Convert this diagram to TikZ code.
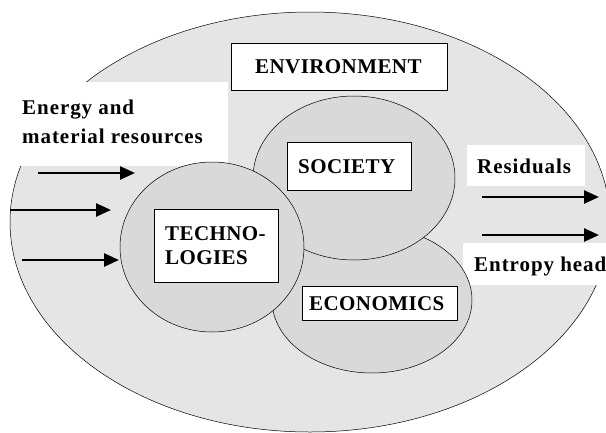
\documentclass[tikz,border=0pt]{standalone}
\usepackage{fontspec}
\setmainfont{Liberation Serif}[BoldFont={Liberation Serif Bold}]
\newfontfamily\capsfnt{Liberation Serif Bold}[LetterSpace=2]
\newfontfamily\wordsfnt{Liberation Serif Bold}[LetterSpace=4.5]
\usetikzlibrary{arrows.meta,shapes.geometric}
\definecolor{outerfill}{gray}{0.90}
\definecolor{innerfill}{gray}{0.85}
\tikzset{
  x=1pt,y=-1pt,
  lab/.style={font=\fontsize{21}{29}\wordsfnt, inner sep=0pt},
  captxt/.style={font=\fontsize{21}{24}\capsfnt, inner sep=0pt, anchor=base west},
  labelbox/.style={draw=black, fill=white, line width=0.5pt, inner sep=0pt, anchor=north west},
  whitebox/.style={fill=white, draw=none, inner sep=0pt, anchor=north west},
  sphere/.style={ellipse, draw=black, line width=0.5pt, fill=innerfill, inner sep=0pt},
  flow/.style={line width=2.5pt, -{Triangle[length=15pt,width=13pt]}},
}
\begin{document}
\begin{tikzpicture}
\useasboundingbox (0,0) rectangle (606,432);
\begin{scope}
\clip (0,0) rectangle (606,432);
% environment (outer ellipse)
\node[ellipse, draw=black, line width=0.5pt, fill=outerfill, minimum width=600pt, minimum height=420pt, inner sep=0pt] (env) at (310,222) {};
% white label areas
\node[whitebox, minimum width=229pt, minimum height=84pt] (ewhite) at (-1,82) {};
\node[whitebox, minimum width=118pt, minimum height=41pt] (rwhite) at (467,145) {};
\node[whitebox, minimum width=145pt, minimum height=42pt] (hwhite) at (463,243) {};
% spheres
\node[sphere, minimum width=200pt, minimum height=146pt] (econ) at (372,300) {};
\node[sphere, minimum width=202pt, minimum height=164pt] (soc) at (354,178) {};
\node[sphere, minimum width=184pt, minimum height=170pt] (tech) at (212,247) {};
\end{scope}
% label boxes
\node[labelbox, minimum width=216pt, minimum height=47pt] (envbox) at (231,43) {};
\node[labelbox, minimum width=124pt, minimum height=48pt] (socbox) at (287,142) {};
\node[labelbox, minimum width=155pt, minimum height=34pt] (econbox) at (302,286) {};
\node[labelbox, minimum width=124pt, minimum height=73pt] (techbox) at (154,209) {};
\node[captxt] (envtxt) at (255,73) {ENVIRONMENT};
\node[captxt] (soctxt) at (298,173) {SOCIETY};
\node[captxt] (econtxt) at (309,310) {ECONOMICS};
\node[captxt, align=left] (techtxt) at (165,264) {TECHNO-\\LOGIES};
% texts
\node[lab, anchor=base west, align=left] (energy) at (22,143) {Energy and\\material resources};
\node[lab, anchor=base west] (resid) at (477,173) {Residuals};
\node[lab, anchor=base west] (entropy) at (474,271) {Entropy head};
% arrows
\coordinate (a1s) at (38,173); \coordinate (a1e) at (135,173);
\coordinate (a2s) at (10,210); \coordinate (a2e) at (111,210);
\coordinate (a3s) at (22,260); \coordinate (a3e) at (119,260);
\coordinate (b1s) at (482,197); \coordinate (b1e) at (599,197);
\coordinate (b2s) at (482,235); \coordinate (b2e) at (599,235);
\draw[flow] (a1s) -- (a1e);
\draw[flow] (a2s) -- (a2e);
\draw[flow] (a3s) -- (a3e);
\draw[flow] (b1s) -- (b1e);
\draw[flow] (b2s) -- (b2e);
\end{tikzpicture}
\end{document}
